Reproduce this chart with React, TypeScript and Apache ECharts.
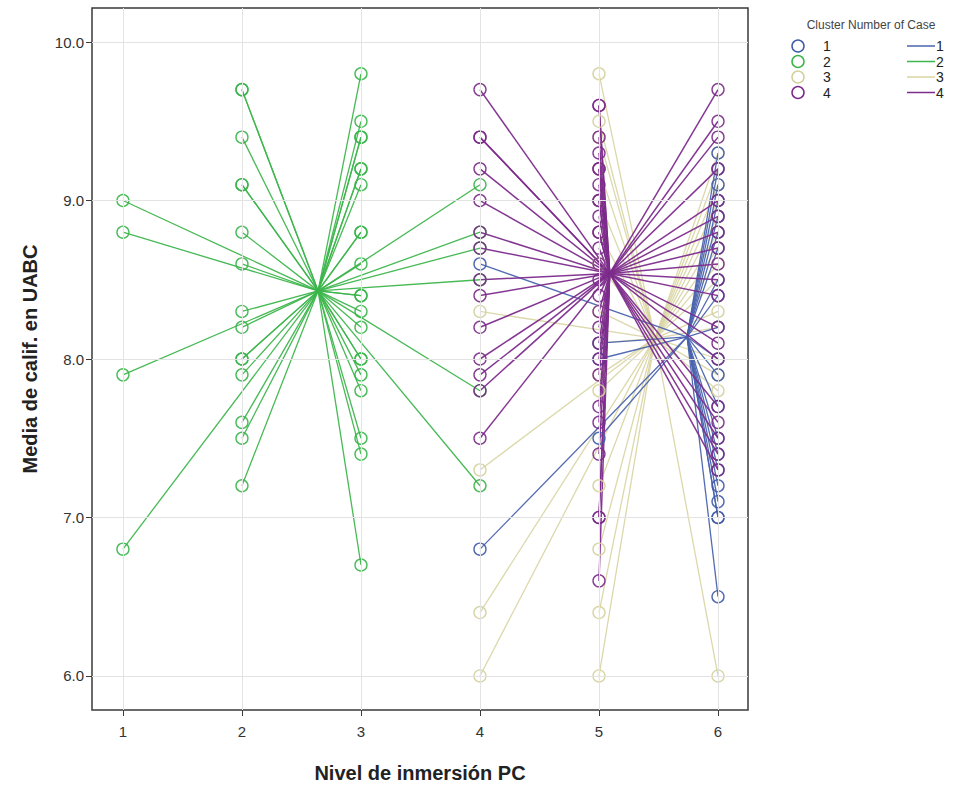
import React, { useEffect, useRef } from "react";
import * as echarts from "echarts";

// ---- Data ----
const clusterNames = ["1", "2", "3", "4"];
const clusterColors = ["#3F5AA8", "#39B54A", "#D4D09C", "#7A2A88"];
const clusterLineColors = ["#4A63AE", "#3DB54C", "#D8D4A2", "#7D2C8C"];

// Cluster centres (x = Nivel de inmersión PC, y = Media de calif.)
const centroidX = [5.74, 2.64, 5.47, 5.09];
const centroidY = [8.14, 8.43, 8.13, 8.54];

// Cluster 1 (blue)
const blueAt4 = [8.6, 6.8];
const blueAt5 = [8.1, 8.0, 7.5];
const blueAt6 = [9.3, 9.2, 9.1, 9.0, 8.9, 8.8, 8.7, 8.5, 8.4, 8.2, 8.0, 7.9, 7.7, 7.5, 7.4, 7.3, 7.2, 7.1, 7.0, 7.0, 6.5];

// Cluster 2 (green)
const greenAt1 = [9.0, 8.8, 7.9, 6.8];
const greenAt2 = [9.7, 9.7, 9.4, 9.1, 9.1, 8.8, 8.6, 8.3, 8.2, 8.0, 8.0, 7.9, 7.6, 7.5, 7.2];
const greenAt3 = [9.8, 9.5, 9.4, 9.4, 9.2, 9.2, 9.1, 8.8, 8.8, 8.6, 8.4, 8.4, 8.3, 8.2, 8.0, 8.0, 7.9, 7.8, 7.5, 7.4, 6.7];
const greenAt4 = [9.1, 8.8, 8.7, 8.5, 7.8, 7.2];

// Cluster 3 (beige)
const beigeAt4 = [8.3, 7.3, 6.4, 6.0];
const beigeAt5 = [9.8, 9.5, 9.4, 9.2, 9.0, 8.8, 8.6, 8.3, 8.1, 7.9, 7.8, 7.2, 6.8, 6.4, 6.0];
const beigeAt6 = [9.3, 9.2, 9.1, 9.0, 8.9, 8.8, 8.7, 8.6, 8.5, 8.3, 8.2, 8.0, 7.9, 7.8, 6.0];

// Cluster 4 (purple)
const purpleAt4 = [9.7, 9.4, 9.4, 9.2, 9.0, 8.8, 8.7, 8.5, 8.4, 8.2, 8.0, 7.9, 7.8, 7.5];
const purpleAt5 = [9.6, 9.6, 9.4, 9.3, 9.2, 9.2, 9.1, 9.0, 9.0, 8.9, 8.8, 8.8, 8.7, 8.6, 8.5, 8.4, 8.3, 8.2, 8.1, 8.0, 7.9, 7.7, 7.6, 7.4, 7.0, 7.0, 6.6];
const purpleAt6 = [9.7, 9.5, 9.4, 9.2, 9.0, 8.9, 8.8, 8.7, 8.6, 8.5, 8.4, 8.2, 8.1, 8.0, 7.7, 7.6, 7.5, 7.4, 7.3];

const xTicks = [1, 2, 3, 4, 5, 6];
const yTicks = [6, 7, 8, 9, 10];
const X_MIN = 0.74;
const X_MAX = 6.252;
const Y_MIN = 5.785;
const Y_MAX = 10.215;

const xTitle = "Nivel de inmersión PC";
const yTitle = "Media de calif. en UABC";
const legendTitle = "Cluster Number of Case";

const FONT = "'Liberation Sans', Arial, sans-serif";

function pts(x: number, ys: number[]): number[][] {
  return ys.map((y) => [x, y]);
}

const clusterPoints: number[][][] = [
  [...pts(4, blueAt4), ...pts(5, blueAt5), ...pts(6, blueAt6)],
  [...pts(1, greenAt1), ...pts(2, greenAt2), ...pts(3, greenAt3), ...pts(4, greenAt4)],
  [...pts(4, beigeAt4), ...pts(5, beigeAt5), ...pts(6, beigeAt6)],
  [...pts(4, purpleAt4), ...pts(5, purpleAt5), ...pts(6, purpleAt6)],
];

export default function App() {
  const ref = useRef<HTMLDivElement>(null);

  useEffect(() => {
    document.body.style.margin = "0";
    if (!ref.current) return;
    const chart = echarts.init(ref.current, undefined, { renderer: "svg" });

    const lineOrder = [2, 0, 1, 3];
    const lineWidths = [1.3, 1.3, 1.3, 1.5];
    const lineOpacity = [0.95, 0.95, 0.9, 0.95];

    const lineSeries = lineOrder.map((ci) => ({
      type: "lines",
      name: "L" + clusterNames[ci],
      coordinateSystem: "cartesian2d",
      silent: true,
      z: 2,
      lineStyle: { color: clusterLineColors[ci], width: lineWidths[ci], opacity: lineOpacity[ci] },
      data: clusterPoints[ci].map((p) => ({ coords: [[centroidX[ci], centroidY[ci]], p] })),
    }));

    const scatterSeries = lineOrder.map((ci) => ({
      type: "scatter",
      name: clusterNames[ci],
      symbol: "circle",
      symbolSize: 12,
      z: 3,
      silent: true,
      itemStyle: { color: "transparent", borderColor: clusterColors[ci], borderWidth: 1.4, opacity: 0.9 },
      data: clusterPoints[ci],
    }));

    const gridSeries = {
      type: "line",
      data: [],
      z: 1,
      silent: true,
      markLine: {
        silent: true,
        symbol: "none",
        label: { show: false },
        lineStyle: { color: "#e3e3e3", width: 1, type: "solid" },
        data: [
          ...xTicks.map((v) => ({ xAxis: v })),
          ...yTicks.map((v) => ({ yAxis: v })),
        ],
      },
    };

    const legendGraphics: any[] = [
      {
        type: "text",
        x: 871,
        y: 25,
        style: { text: legendTitle, fontSize: 12, fill: "#444", fontFamily: FONT, align: "center", verticalAlign: "middle" },
      },
    ];
    clusterNames.forEach((n, i) => {
      const y = 46 + 15.5 * i;
      legendGraphics.push(
        { type: "circle", shape: { cx: 798, cy: y, r: 6 }, style: { fill: "none", stroke: clusterColors[i], lineWidth: 1.5 } },
        { type: "text", x: 823, y: y, style: { text: n, fontSize: 14, fill: "#222", fontFamily: FONT, verticalAlign: "middle" } },
        { type: "line", shape: { x1: 907, y1: y, x2: 935, y2: y }, style: { stroke: clusterLineColors[i], lineWidth: 1.5 } },
        { type: "text", x: 936, y: y, style: { text: n, fontSize: 14, fill: "#222", fontFamily: FONT, verticalAlign: "middle" } }
      );
    });

    chart.setOption({
      animation: false,
      backgroundColor: "#ffffff",
      textStyle: { fontFamily: FONT },
      grid: {
        left: 92,
        right: 208,
        top: 8,
        bottom: 78,
        show: true,
        borderColor: "#3a3a3a",
        borderWidth: 1.5,
        backgroundColor: "transparent",
      },
      xAxis: {
        type: "value",
        min: X_MIN,
        max: X_MAX,
        name: xTitle,
        nameLocation: "middle",
        nameGap: 53,
        nameTextStyle: { fontSize: 20, fontWeight: "bold", color: "#222", fontFamily: FONT },
        axisLine: { show: false },
        axisTick: { show: true, length: 6, customValues: xTicks, lineStyle: { color: "#3a3a3a" } },
        axisLabel: { customValues: xTicks, fontSize: 15, color: "#333", margin: 14, fontFamily: FONT },
        splitLine: { show: false },
      },
      yAxis: {
        type: "value",
        min: Y_MIN,
        max: Y_MAX,
        name: yTitle,
        nameLocation: "middle",
        nameGap: 52,
        nameTextStyle: { fontSize: 20, fontWeight: "bold", color: "#222", fontFamily: FONT },
        axisLine: { show: false },
        axisTick: { show: true, length: 6, customValues: yTicks, lineStyle: { color: "#3a3a3a" } },
        axisLabel: {
          customValues: yTicks,
          fontSize: 15,
          color: "#333",
          margin: 8,
          fontFamily: FONT,
          formatter: (v: number) => v.toFixed(1),
        },
        splitLine: { show: false },
      },
      graphic: legendGraphics,
      series: [gridSeries, ...lineSeries, ...scatterSeries],
    });

    return () => chart.dispose();
  }, []);

  return <div ref={ref} style={{ width: 956, height: 788 }} />;
}
